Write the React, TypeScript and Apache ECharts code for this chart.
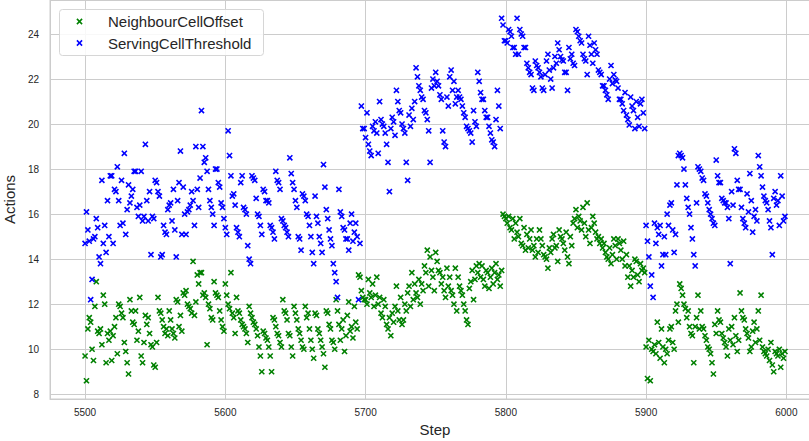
import React, { useEffect, useRef } from "react";
import * as echarts from "echarts";

// Steps run from START_STEP upward, one value per step.
const START_STEP = 5500;

const neighbourCellOffset: number[] = [
  9.7, 8.6, 10.9, 11.4, 11.2, 10.0, 9.5, 11.9, 13.0, 10.8,
  10.7, 10.9, 10.2, 12.4, 12.0, 9.4, 10.7, 10.4, 10.8, 9.5,
  10.6, 11.0, 11.4, 9.8, 12.0, 11.9, 11.6, 11.4, 10.3, 9.9,
  9.4, 8.9, 12.2, 11.7, 11.2, 11.1, 11.7, 10.4, 10.8, 12.3,
  9.7, 9.4, 10.3, 11.5, 11.1, 11.4, 10.7, 10.2, 10.1, 9.3,
  9.2, 10.3, 12.3, 11.7, 11.6, 11.3, 11.0, 10.7, 10.9, 10.6,
  11.7, 11.3, 10.9, 10.7, 10.5, 12.2, 12.1, 11.0, 11.5, 10.8,
  12.5, 12.4, 12.6, 12.0, 11.9, 11.8, 11.6, 13.9, 11.5, 12.1,
  13.3, 12.9, 13.4, 13.4, 12.4, 12.5, 12.3, 10.2, 12.0, 11.8,
  11.4, 11.3, 13.0, 12.5, 12.4, 12.3, 11.7, 11.3, 11.0, 10.8,
  12.9, 12.4, 12.0, 11.8, 13.4, 11.6, 11.4, 10.7, 12.3, 11.7,
  11.6, 11.3, 11.1, 11.0, 10.9, 10.7, 10.3, 11.9, 11.6, 11.4,
  11.2, 11.1, 10.9, 10.6, 10.1, 9.7, 9.0, 10.8, 10.7, 10.5,
  10.4, 10.1, 9.7, 9.0, 11.4, 11.3, 11.0, 10.7, 10.6, 10.3,
  10.1, 12.2, 11.7, 11.6, 11.3, 10.7, 10.6, 10.1, 9.7, 11.9,
  11.6, 11.3, 10.9, 10.7, 10.4, 10.1, 10.0, 11.9, 11.4, 11.6,
  10.9, 10.4, 10.0, 9.6, 11.6, 11.5, 10.9, 10.7, 10.4, 10.1,
  9.8, 9.2, 11.7, 11.6, 11.1, 10.9, 10.4, 10.3, 10.0, 12.2,
  11.7, 11.1, 10.4, 10.9, 11.3, 9.9, 10.6, 11.5, 12.1, 10.8,
  11.0, 10.5, 11.9, 11.2, 10.9, 13.3, 13.2, 12.6, 12.3, 12.2,
  12.2, 12.0, 13.1, 12.5, 12.3, 12.9, 11.9, 12.4, 13.2, 12.0,
  12.3, 11.6, 11.4, 12.2, 11.9, 11.1, 10.9, 11.4, 10.6, 11.6,
  11.2, 11.9, 12.8, 11.7, 11.3, 12.3, 11.1, 11.3, 12.0, 11.7,
  12.5, 12.8, 11.9, 13.4, 12.2, 12.9, 12.5, 12.3, 13.1, 12.0,
  12.9, 12.6, 13.7, 13.4, 14.4, 12.8, 14.1, 13.5, 13.2, 12.6,
  14.3, 13.9, 13.5, 13.4, 12.9, 13.2, 12.6, 12.3, 13.6, 12.8,
  13.2, 12.6, 12.4, 12.0, 13.6, 11.7, 13.2, 12.8, 12.6, 12.4,
  12.0, 11.7, 11.3, 11.1, 12.7, 13.0, 13.5, 12.2, 13.1, 13.7,
  13.4, 13.8, 13.2, 13.7, 13.1, 12.8, 13.5, 13.4, 12.7, 13.2,
  13.6, 12.9, 13.4, 13.8, 13.1, 13.3, 12.8, 13.5, 16.0, 15.9,
  15.8, 15.6, 15.9, 15.4, 15.3, 15.8, 14.9, 15.6, 15.2, 15.0,
  15.8, 14.7, 14.6, 15.4, 14.4, 15.1, 14.5, 14.9, 15.3, 14.4,
  14.6, 14.1, 14.9, 14.3, 15.3, 14.9, 14.6, 14.2, 14.1, 14.0,
  13.6, 14.5, 14.3, 14.9, 15.1, 14.5, 14.6, 13.9, 15.3, 15.0,
  14.9, 14.7, 14.4, 15.2, 14.1, 13.8, 15.0, 14.6, 15.6, 15.8,
  16.2, 15.4, 15.9, 15.7, 15.3, 16.3, 15.6, 15.0, 16.5, 15.3,
  14.7, 15.4, 15.9, 15.6, 15.2, 14.9, 15.0, 14.7, 14.9, 14.5,
  14.7, 14.3, 14.1, 14.0, 14.5, 13.8, 14.2, 14.9, 14.6, 14.0,
  14.9, 14.7, 14.4, 14.0, 14.8, 13.7, 14.2, 13.2, 13.7, 12.8,
  13.5, 13.2, 14.0, 13.9, 13.3, 13.0, 13.8, 13.5, 13.6, 13.4,
  10.1, 8.7, 10.4, 8.6, 10.0, 9.9, 10.2, 9.8, 11.2, 10.3,
  9.6, 10.9, 10.1, 9.4, 10.0, 9.8, 10.4, 10.9, 11.0, 10.3,
  10.0, 11.7, 12.0, 11.2, 12.9, 12.7, 12.4, 12.0, 11.8, 11.4,
  11.7, 11.0, 10.7, 10.6, 9.4, 11.0, 11.4, 12.4, 10.9, 11.7,
  11.0, 10.9, 10.6, 10.4, 10.1, 10.0, 9.8, 9.4, 8.9, 11.1,
  10.7, 11.7, 11.3, 11.2, 10.7, 10.5, 10.3, 10.1, 9.7, 10.9,
  10.4, 11.0, 10.2, 11.4, 10.6, 9.9, 10.4, 12.5, 11.7, 11.4,
  11.3, 10.9, 10.7, 10.5, 9.9, 10.1, 10.8, 11.2, 10.3, 10.9,
  11.7, 10.4, 12.4, 10.1, 9.9, 9.8, 9.7, 10.0, 9.5, 10.3,
  9.3, 9.0, 9.9, 9.8, 9.7, 10.0, 9.2, 9.8, 9.6, 9.9,
];

const servingCellThreshold: number[] = [
  14.7, 16.1, 15.3, 14.8, 12.2, 13.1, 14.9, 15.0, 15.8, 15.4,
  14.1, 13.8, 17.5, 14.7, 15.5, 14.3, 16.6, 15.0, 17.7, 17.7,
  14.7, 17.1, 17.0, 18.1, 16.6, 15.5, 17.5, 15.6, 18.7, 15.1,
  16.2, 17.3, 16.5, 16.8, 17.1, 17.9, 17.9, 16.3, 15.9, 16.4,
  17.9, 15.7, 15.9, 19.1, 16.6, 15.7, 17.0, 14.2, 15.9, 15.8,
  17.5, 17.4, 17.0, 16.8, 14.1, 14.2, 15.5, 15.2, 15.1, 16.2,
  16.4, 16.5, 15.7, 17.1, 15.3, 14.1, 16.6, 17.4, 18.8, 15.1,
  17.2, 16.0, 15.1, 16.1, 16.2, 16.4, 17.0, 16.6, 15.5, 19.0,
  17.1, 16.3, 17.6, 20.6, 19.0, 18.3, 18.5, 17.9, 17.1, 16.6,
  16.3, 16.0, 15.5, 18.0, 18.0, 17.4, 17.2, 16.5, 16.3, 15.8,
  15.4, 15.1, 19.7, 18.6, 17.7, 16.8, 16.9, 16.4, 15.4, 15.2,
  15.0, 17.4, 17.7, 16.3, 16.2, 16.0, 14.6, 14.0, 13.8, 17.7,
  17.6, 17.5, 16.7, 16.0, 15.9, 15.5, 15.1, 17.1, 17.0, 16.6,
  16.6, 16.5, 15.5, 15.4, 15.2, 14.9, 17.9, 17.5, 17.4, 17.1,
  15.8, 15.7, 15.5, 15.4, 15.2, 15.0, 18.5, 17.8, 17.4, 17.1,
  16.6, 16.3, 15.0, 14.9, 14.4, 16.9, 16.8, 16.6, 16.0, 15.9,
  15.5, 15.0, 14.3, 13.8, 16.8, 15.9, 15.6, 15.0, 14.7, 14.3,
  18.2, 17.2, 16.2, 15.8, 15.3, 14.9, 14.6, 13.8, 13.4, 13.0,
  12.3, 17.1, 16.1, 15.9, 15.4, 15.3, 14.9, 14.9, 14.4, 15.6,
  16.0, 14.8, 15.2, 15.6, 15.0, 12.2, 14.7, 20.8, 19.8, 19.8,
  19.4, 20.5, 19.1, 18.8, 18.6, 19.9, 19.7, 20.1, 19.6, 18.7,
  21.0, 20.2, 20.0, 19.9, 19.6, 19.1, 18.3, 17.0, 19.8, 20.3,
  20.1, 19.5, 21.5, 21.0, 20.6, 20.5, 20.0, 19.8, 19.6, 18.3,
  17.5, 20.4, 19.9, 20.7, 20.2, 21.0, 22.5, 22.1, 21.7, 21.5,
  21.2, 21.1, 20.6, 20.5, 20.2, 19.7, 18.3, 21.6, 22.0, 21.7,
  22.3, 21.9, 21.7, 21.3, 21.1, 19.7, 19.2, 19.0, 21.2, 20.8,
  22.1, 22.4, 21.5, 21.9, 20.9, 21.2, 21.5, 21.2, 21.1, 20.8,
  20.5, 20.3, 19.9, 19.8, 19.7, 19.6, 19.2, 20.6, 20.1, 19.9,
  22.3, 21.9, 21.4, 21.1, 21.1, 20.6, 20.3, 20.3, 19.9, 19.6,
  19.3, 19.2, 19.0, 20.2, 21.5, 20.8, 19.8, 24.7, 24.4, 23.7,
  23.7, 23.6, 24.2, 24.1, 23.9, 23.4, 23.4, 23.1, 24.7, 23.1,
  24.2, 24.0, 23.9, 23.4, 23.4, 22.7, 22.5, 22.3, 22.2, 21.6,
  21.5, 22.8, 22.6, 22.5, 22.3, 22.1, 21.6, 21.5, 22.2, 22.8,
  23.1, 22.4, 22.0, 21.6, 22.5, 23.0, 22.7, 23.6, 23.3, 23.0,
  22.85, 22.8, 22.3, 22.3, 21.5, 23.4, 22.9, 23.1, 22.7, 22.6,
  24.2, 24.1, 23.9, 23.7, 23.6, 23.1, 22.9, 22.8, 22.2, 23.9,
  23.5, 23.1, 22.7, 23.6, 23.3, 23.1, 22.4, 22.3, 22.2, 21.7,
  21.7, 21.5, 21.3, 21.1, 22.0, 22.6, 21.8, 22.2, 21.96, 21.9,
  21.6, 21.1, 21.1, 20.9, 20.6, 21.4, 20.4, 20.2, 19.96, 21.2,
  20.8, 20.6, 19.8, 21.0, 20.3, 19.9, 20.9, 21.1, 20.5, 19.8,
  15.5, 14.8, 14.1, 12.8, 13.3, 12.3, 15.6, 14.7, 15.4, 15.1,
  15.5, 13.7, 14.2, 15.0, 14.2, 16.0, 15.5, 16.4, 16.5, 15.3,
  14.3, 15.1, 17.3, 18.6, 18.7, 18.6, 18.5, 18.0, 17.3, 16.7,
  16.3, 16.0, 15.4, 14.9, 14.2, 13.7, 16.5, 18.1, 18.0, 17.9,
  17.6, 17.5, 16.9, 16.8, 16.5, 16.2, 16.0, 15.8, 15.6, 15.5,
  18.4, 17.7, 17.4, 17.4, 16.7, 16.6, 16.5, 16.5, 16.3, 15.8,
  13.8, 17.0, 16.4, 18.9, 18.7, 17.5, 17.1, 17.1, 16.3, 15.8,
  15.6, 15.4, 16.9, 16.1, 17.8, 16.6, 15.2, 15.9, 16.2, 15.7,
  18.6, 18.1, 17.7, 17.2, 16.8, 16.6, 16.5, 16.2, 15.7, 15.4,
  14.2, 16.7, 17.0, 16.4, 16.6, 15.5, 17.7, 16.8, 15.7, 15.9,
];

const seriesNames = ["NeighbourCellOffset", "ServingCellThreshold"];
const seriesColors = ["#008000", "#0000ff"];

// Axis extents and tick spacing
const X_MIN = 5475;
const X_MAX = 6024;
const X_STEP = 100;
const Y_MIN = 7.79;
const Y_MAX = 25.51;
const Y_STEP = 2;

// Thin "x" cross marker
const X_MARK =
  "path://M0,1.8L1.8,0L5,3.2L8.2,0L10,1.8L6.8,5L10,8.2L8.2,10L5,6.8L1.8,10L0,8.2L3.2,5Z";

const FONT = "'Liberation Sans', Arial, 'DejaVu Sans', sans-serif";
const TEXT = "#262626";
const GRID = "#cccccc";

function toPoints(values: number[]): number[][] {
  return values.map((v, i) => [START_STEP + i, v]);
}

function legendCross(cx: number, cy: number, color: string) {
  const r = 2.6;
  return [
    {
      type: "line",
      shape: { x1: cx - r, y1: cy - r, x2: cx + r, y2: cy + r },
      style: { stroke: color, lineWidth: 1.5 },
      z: 101,
    },
    {
      type: "line",
      shape: { x1: cx - r, y1: cy + r, x2: cx + r, y2: cy - r },
      style: { stroke: color, lineWidth: 1.5 },
      z: 101,
    },
  ];
}

export default function App() {
  const ref = useRef<HTMLDivElement>(null);

  useEffect(() => {
    document.body.style.margin = "0";
    if (!ref.current) return;
    const chart = echarts.init(ref.current, undefined, { renderer: "svg" });

    const rows = [21.5, 43];

    chart.setOption({
      animation: false,
      backgroundColor: "#ffffff",
      grid: {
        left: 50,
        top: 0,
        width: 770,
        height: 399,
        outerBoundsMode: "none",
        containLabel: false,
        show: true,
        borderColor: GRID,
        borderWidth: 1,
        backgroundColor: "transparent",
      },
      xAxis: {
        type: "value",
        min: X_MIN,
        max: X_MAX,
        minInterval: X_STEP,
        maxInterval: X_STEP,
        name: "Step",
        nameLocation: "middle",
        nameGap: 21,
        nameTextStyle: { fontFamily: FONT, fontSize: 15, color: TEXT },
        axisLine: { show: true, lineStyle: { color: GRID, width: 1 } },
        axisTick: { show: false },
        axisLabel: {
          fontFamily: FONT,
          fontSize: 10,
          color: TEXT,
          margin: 8,
          showMinLabel: false,
          showMaxLabel: false,
          formatter: (v: number) => (v % X_STEP === 0 ? String(v) : ""),
        },
        splitLine: { show: true, lineStyle: { color: GRID, width: 1 } },
      },
      yAxis: {
        type: "value",
        min: Y_MIN,
        max: Y_MAX,
        minInterval: Y_STEP,
        maxInterval: Y_STEP,
        name: "Actions",
        nameLocation: "middle",
        nameGap: 26,
        nameRotate: 90,
        nameTextStyle: { fontFamily: FONT, fontSize: 15, color: TEXT },
        axisLine: { show: true, lineStyle: { color: GRID, width: 1 } },
        axisTick: { show: false },
        axisLabel: {
          fontFamily: FONT,
          fontSize: 10,
          color: TEXT,
          margin: 11,
          showMinLabel: false,
          showMaxLabel: false,
          formatter: (v: number) =>
            Math.abs(v - Math.round(v)) < 1e-6 && Math.round(v) % Y_STEP === 0
              ? String(Math.round(v))
              : "",
        },
        splitLine: { show: true, lineStyle: { color: GRID, width: 1 } },
      },
      series: [neighbourCellOffset, servingCellThreshold].map((vals, k) => ({
        name: seriesNames[k],
        type: "scatter",
        data: toPoints(vals),
        symbol: X_MARK,
        symbolSize: 6.2,
        itemStyle: { color: seriesColors[k], opacity: 1 },
        emphasis: { disabled: true },
        z: 2 + k,
      })),
      graphic: [
        {
          type: "rect",
          shape: { x: 59.5, y: 9.5, width: 204, height: 46, r: 3 },
          style: { fill: "rgba(255,255,255,0.85)", stroke: "#d6d6d6", lineWidth: 1 },
          z: 100,
        },
        ...seriesNames.flatMap((name, k) => [
          ...legendCross(79.5, rows[k], seriesColors[k]),
          {
            type: "text",
            x: 108,
            y: rows[k],
            style: {
              text: name,
              fontFamily: FONT,
              fontSize: 15,
              fill: TEXT,
              verticalAlign: "middle",
              align: "left",
            },
            z: 101,
          },
        ]),
      ],
    });

    return () => chart.dispose();
  }, []);

  return <div ref={ref} style={{ width: 809, height: 441 }} />;
}
